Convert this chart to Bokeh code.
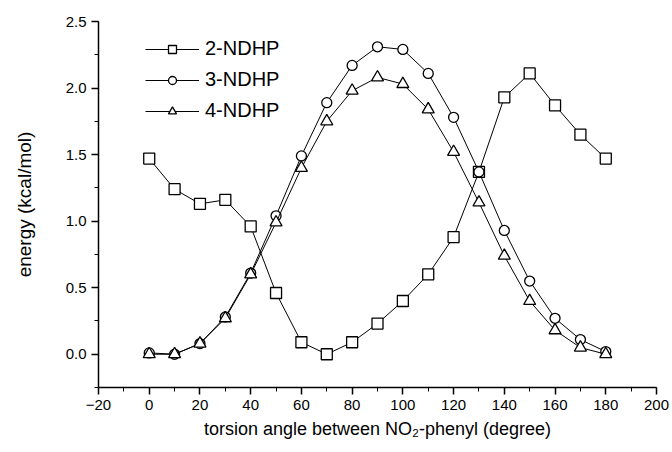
from bokeh.plotting import figure
from bokeh.models import Range1d, SingleIntervalTicker, Legend, LegendItem, NumeralTickFormatter
from bokeh.embed import file_html
from bokeh.resources import INLINE

angles = [0, 10, 20, 30, 40, 50, 60, 70, 80, 90, 100, 110, 120, 130, 140, 150, 160, 170, 180]
ndhp2 = [1.47, 1.24, 1.13, 1.16, 0.96, 0.46, 0.09, 0.00, 0.09, 0.23, 0.40, 0.60, 0.88, 1.37, 1.93, 2.11, 1.87, 1.65, 1.47]
ndhp3 = [0.01, 0.00, 0.08, 0.28, 0.61, 1.04, 1.49, 1.89, 2.17, 2.31, 2.29, 2.11, 1.78, 1.37, 0.93, 0.55, 0.27, 0.11, 0.02]
ndhp4 = [0.00, 0.00, 0.08, 0.27, 0.60, 0.99, 1.40, 1.75, 1.98, 2.08, 2.03, 1.84, 1.52, 1.14, 0.74, 0.40, 0.18, 0.05, 0.00]
labels = ["2-NDHP", "3-NDHP", "4-NDHP"]

FONT = "Liberation Sans"

p = figure(width=672, height=452, output_backend="svg", toolbar_location=None,
           x_range=Range1d(-20, 200), y_range=Range1d(-0.25, 2.5),
           min_border_left=98, min_border_right=16, min_border_top=21, min_border_bottom=65)
p.outline_line_color = None
p.xgrid.visible = False
p.ygrid.visible = False
p.background_fill_color = "white"

p.xaxis.ticker = SingleIntervalTicker(interval=20, num_minor_ticks=2)
p.yaxis.ticker = SingleIntervalTicker(interval=0.5, num_minor_ticks=2)
p.yaxis.formatter = NumeralTickFormatter(format="0.0")
for ax in (p.xaxis, p.yaxis):
    ax.axis_line_color = "black"
    ax.axis_line_width = 1.5
    ax.major_tick_line_color = "black"
    ax.minor_tick_line_color = "black"
    ax.major_tick_line_width = 1.5
    ax.major_tick_out = 7
    ax.major_tick_in = 0
    ax.minor_tick_out = 4
    ax.minor_tick_in = 0
    ax.major_label_text_font = FONT
    ax.major_label_text_font_size = "15px"
    ax.major_label_text_color = "black"
    ax.axis_label_text_font = FONT
    ax.axis_label_text_font_size = "19px"
    ax.axis_label_text_font_style = "normal"
    ax.axis_label_text_color = "black"
p.xaxis.axis_label_text_font_size = "18px"
p.xaxis.axis_label = "torsion angle between NO\u2082-phenyl (degree)"
p.yaxis.axis_label = "energy (kcal/mol)"
p.xaxis.axis_label_standoff = 6
p.yaxis.axis_label_standoff = 28

items = []
l2 = p.line(angles, ndhp2, line_color="black", line_width=1)
m2 = p.scatter(angles, ndhp2, marker="square", size=11, fill_color="white", line_color="black", line_width=1.3)
items.append(LegendItem(label=labels[0], renderers=[l2, m2]))
l3 = p.line(angles, ndhp3, line_color="black", line_width=1)
m3 = p.scatter(angles, ndhp3, marker="circle", size=10, fill_color="white", line_color="black", line_width=1.3)
items.append(LegendItem(label=labels[1], renderers=[l3, m3]))
l4 = p.line(angles, ndhp4, line_color="black", line_width=1)
m4 = p.scatter(angles, ndhp4, marker="triangle", size=12, fill_color="white", line_color="black", line_width=1.3)
items.append(LegendItem(label=labels[2], renderers=[l4, m4]))

legend = Legend(items=items, location="top_left", margin=0, padding=6,
                border_line_color=None, background_fill_alpha=0,
                glyph_width=54, glyph_height=20, label_height=20, spacing=8,
                label_text_font=FONT, label_text_font_size="20px", label_standoff=6,
                label_text_color="black")
p.add_layout(legend)
legend.location = (47, 265)

open("out.html", "w").write(file_html(p, INLINE))
